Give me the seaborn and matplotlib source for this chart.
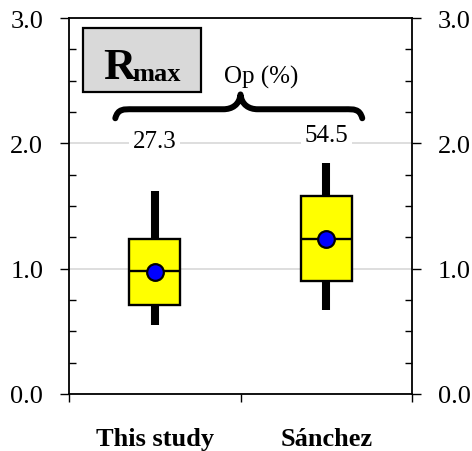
import numpy as np
import pandas as pd
import matplotlib
matplotlib.use("Agg")
import matplotlib.pyplot as plt
from matplotlib.patches import Rectangle, PathPatch
from matplotlib.path import Path
from matplotlib.ticker import MultipleLocator, FormatStrFormatter
import seaborn as sns

# Five-number summaries of R_max for each source
categories = ["This study", "Sánchez"]
whisker_low = [0.55, 0.67]
q1 = [0.71, 0.90]
median = [0.98, 1.24]
q3 = [1.24, 1.58]
whisker_high = [1.62, 1.84]
means = [0.97, 1.24]
op_percent = ["27.3", "54.5"]
y_ticks = [0.0, 1.0, 2.0, 3.0]

sns.set_style("ticks")
plt.rcParams["font.family"] = ["Liberation Serif", "DejaVu Serif"]
plt.rcParams["text.color"] = "black"
plt.rcParams["xtick.color"] = "black"
plt.rcParams["ytick.color"] = "black"
plt.rcParams["xtick.labelcolor"] = "black"
plt.rcParams["ytick.labelcolor"] = "black"

# Long-form table: each summary expressed as five values so the
# quartiles/whiskers come out exactly at the listed numbers
rows = []
for i, cat in enumerate(categories):
    for v in (whisker_low[i], q1[i], median[i], q3[i], whisker_high[i]):
        rows.append({"study": cat, "value": v})
df = pd.DataFrame(rows)

fig = plt.figure(figsize=(4.72, 4.52), dpi=100)
ax = fig.add_axes([69 / 472, 1 - 395 / 452, (412 - 69) / 472, (395 - 19) / 452])

sns.boxplot(
    data=df, x="study", y="value", order=categories, ax=ax,
    width=0.3, whis=(0, 100), showcaps=False, showfliers=False,
    color="#ffff00", saturation=1, linecolor="black", linewidth=1.7,
    whiskerprops=dict(linewidth=5.8, solid_capstyle="butt", color="black"),
    medianprops=dict(linewidth=1.7, color="black"),
    boxprops=dict(edgecolor="black", linewidth=1.7),
)

sns.pointplot(
    x=categories, y=means, order=categories, ax=ax,
    errorbar=None, linestyle="none", marker="o", color="#0000ff",
    markersize=12, markeredgewidth=1.6, zorder=6,
)
for ln in ax.lines[-1:]:
    ln.set_markeredgecolor("black")
    ln.set_markerfacecolor("#0000ff")

ax.set_xlim(-0.5, 1.5)
ax.set_ylim(0, 3)
ax.set_xlabel("")
ax.set_ylabel("")

# Y axis: labelled both sides, major ticks outward, minor ticks inward
ax.set_yticks(y_ticks)
ax.yaxis.set_major_formatter(FormatStrFormatter("%.1f"))
ax.yaxis.set_minor_locator(MultipleLocator(0.25))
ax.tick_params(axis="y", which="major", direction="out", length=6.5, width=1.0,
               left=True, right=True, labelleft=True, labelright=True,
               labelsize=19, pad=12, colors="black")
ax.tick_params(axis="y", which="minor", direction="in", length=5, width=1.0,
               left=True, right=True, colors="black")

# X axis: ticks at category boundaries, names centred on categories
ax.set_xticks([-0.5, 0.5, 1.5])
ax.set_xticklabels(["", "", ""])
ax.set_xticks([0, 1], minor=True)
ax.set_xticklabels(categories, minor=True, fontweight="bold", fontsize=19,
                   color="black")
ax.tick_params(axis="x", which="major", direction="out", length=6, width=1.0,
               colors="black")
ax.tick_params(axis="x", which="minor", length=0, pad=24)

for sp in ax.spines.values():
    sp.set_visible(True)
    sp.set_color("black")
    sp.set_linewidth(1.3)

ax.yaxis.grid(True, which="major", color="#d4d4d4", linewidth=1.1)
ax.xaxis.grid(False)
ax.set_axisbelow(True)

# Op (%) values above each box
for i, lab in enumerate(op_percent):
    yy = 2.02 if i == 0 else 2.07
    ax.text(i, yy, lab, ha="center", va="center", fontsize=18, zorder=4,
            color="black",
            bbox=dict(boxstyle="square,pad=0.15", fc="white", ec="none"))


def curly_brace(ax, x0, x1, xm, y, y_end, y_tip, lw):
    """Horizontal curly brace opening downward with its tip pointing up."""
    r = 0.1
    verts = [
        (x0, y_end), (x0 + 0.015, y + 0.005), (x0 + 0.05, y), (x0 + r, y),
        (xm - r, y),
        (xm - 0.05, y), (xm - 0.006, y + 0.035), (xm, y_tip),
        (xm + 0.006, y + 0.035), (xm + 0.05, y), (xm + r, y),
        (x1 - r, y),
        (x1 - 0.05, y), (x1 - 0.015, y + 0.005), (x1, y_end),
    ]
    codes = [Path.MOVETO, Path.CURVE4, Path.CURVE4, Path.CURVE4,
             Path.LINETO,
             Path.CURVE4, Path.CURVE4, Path.CURVE4,
             Path.CURVE4, Path.CURVE4, Path.CURVE4,
             Path.LINETO,
             Path.CURVE4, Path.CURVE4, Path.CURVE4]
    ax.add_patch(PathPatch(Path(verts, codes), fc="none", ec="black",
                           lw=lw, capstyle="round", joinstyle="round",
                           zorder=4, clip_on=False))


curly_brace(ax, -0.23, 1.21, 0.5, 2.272, 2.20, 2.39, 4.3)
ax.text(0.62, 2.535, "Op (%)", ha="center", va="center", fontsize=18,
        color="black")

# R_max title box
ax.add_patch(Rectangle((-0.418, 2.41), 0.688, 0.511, fc="#d9d9d9",
                       ec="black", lw=1.6, zorder=4))
ax.text(-0.302, 2.522, "R", ha="left", va="baseline", fontsize=32,
        fontweight="bold", color="black", zorder=5)
ax.text(-0.133, 2.506, "max", ha="left", va="baseline", fontsize=19,
        fontweight="bold", color="black", zorder=5)

fig.savefig("out.png", dpi=100)
